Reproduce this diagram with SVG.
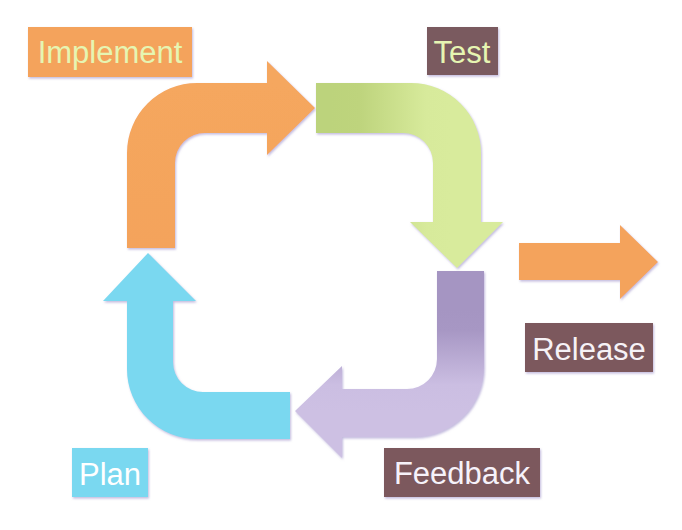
<svg xmlns="http://www.w3.org/2000/svg" width="682" height="530" viewBox="0 0 682 530">
<defs>
<linearGradient id="gGreen" gradientUnits="userSpaceOnUse" x1="330" y1="0" x2="450" y2="0">
<stop offset="0" stop-color="#bcd37b"/><stop offset="0.25" stop-color="#bed47d"/><stop offset="0.8" stop-color="#d7ea9b"/><stop offset="1" stop-color="#d8eb9c"/>
</linearGradient>
<linearGradient id="gPurple" gradientUnits="userSpaceOnUse" x1="0" y1="310" x2="0" y2="410">
<stop offset="0" stop-color="#a595c2"/><stop offset="0.2" stop-color="#a797c4"/><stop offset="0.75" stop-color="#cbbee2"/><stop offset="1" stop-color="#cdc0e3"/>
</linearGradient>
<linearGradient id="gOrange" gradientUnits="userSpaceOnUse" x1="0" y1="83" x2="0" y2="250">
<stop offset="0" stop-color="#f5a75e"/><stop offset="1" stop-color="#f4a35b"/>
</linearGradient>
<filter id="sh" x="-10%" y="-10%" width="120%" height="120%">
<feDropShadow dx="1" dy="1.5" stdDeviation="0.8" flood-color="#9a8cc8" flood-opacity="0.6"/>
</filter>
</defs>
<style>
.lbl{font-family:"Liberation Sans",Arial,sans-serif;font-size:31px;text-anchor:middle}
.arrow{filter:url(#sh)}
.box{filter:url(#sh)}
</style>
<rect width="682" height="530" fill="#ffffff"/>
<g id="connectors">
<path id="arrow-implement" class="arrow" fill="url(#gOrange)" d="M127,248 L127,153 A70,70 0 0 1 197,83 L267,83 L267,61 L315,108 L267,155 L267,133 L205,133 A30,30 0 0 0 175,163 L175,248 Z"/>
<path id="arrow-test" class="arrow" fill="url(#gGreen)" d="M316,83 L411,83 A70,70 0 0 1 481,153 L481,222 L503,222 L457,268 L410,222 L433,222 L433,163 A30,30 0 0 0 403,133 L316,133 Z"/>
<path id="arrow-feedback" class="arrow" fill="url(#gPurple)" d="M437,271 L484,271 L484,367 A70,70 0 0 1 414,437 L342,437 L342,458 L295,411 L342,366 L342,389 L407,389 A30,30 0 0 0 437,359 Z"/>
<path id="arrow-plan" class="arrow" fill="#7ad8f0" d="M290,392 L290,439 L197,439 A70,70 0 0 1 127,369 L127,301 L103,301 L148,253 L196,301 L173,301 L173,362 A30,30 0 0 0 203,392 Z"/>
<path id="arrow-release" class="arrow" fill="#f4a35b" d="M519,243 L620,243 L620,225 L658,262 L620,299 L620,280 L519,280 Z"/>
</g>
<g id="implement">
<rect class="box" x="28" y="27" width="164" height="50" fill="#f4a35b"/>
<text class="lbl" x="110" y="63" fill="#e6f5b2">Implement</text>
</g>
<g id="test">
<rect class="box" x="427" y="27" width="71" height="48" fill="#7a5a5e"/>
<text class="lbl" x="462" y="63" fill="#e6f5b2">Test</text>
</g>
<g id="release">
<rect class="box" x="525" y="323" width="128" height="49" fill="#7b585d"/>
<text class="lbl" x="589" y="360" fill="#f6f2f6">Release</text>
</g>
<g id="feedback">
<rect class="box" x="384" y="448" width="156" height="49" fill="#7b585d"/>
<text class="lbl" x="462" y="484" fill="#f6f2fa">Feedback</text>
</g>
<g id="plan">
<rect class="box" x="72" y="448" width="76" height="49" fill="#7ad8f0"/>
<text class="lbl" x="110" y="485" fill="#ffffff">Plan</text>
</g>
</svg>
